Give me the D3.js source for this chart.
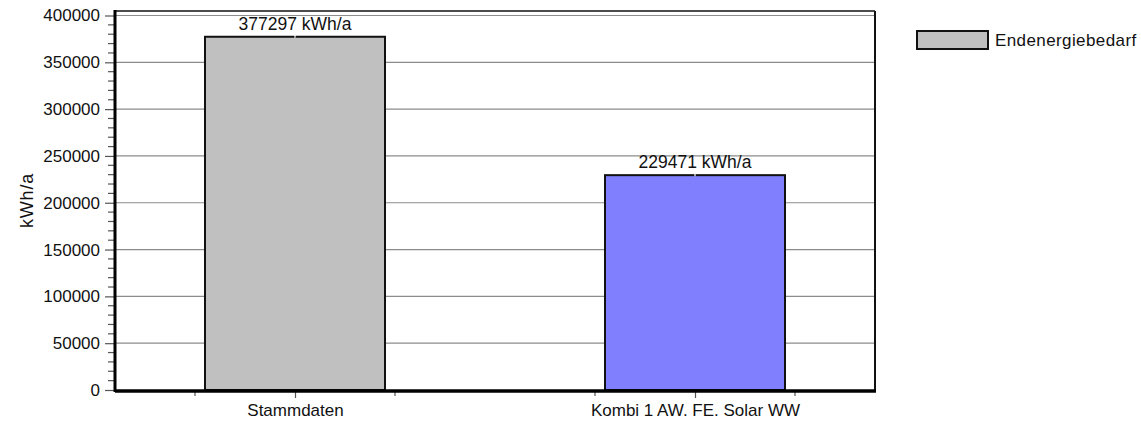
<!DOCTYPE html>
<html><head><meta charset="utf-8">
<script src="https://cdn.jsdelivr.net/npm/d3@7"></script>
<style>
html,body{margin:0;padding:0;background:#fff;}
svg{display:block;font-family:"Liberation Sans",Arial,sans-serif;}
</style></head>
<body><svg id="c" width="1141" height="421"></svg>
<script>
const categories = ["Stammdaten", "Kombi 1 AW. FE. Solar WW"];
const values = [377297, 229471];
const valueLabels = ["377297 kWh/a", "229471 kWh/a"];
const barColors = ["#c0c0c0", "#8080ff"];
const seriesName = "Endenergiebedarf";
const yTicks = [0, 50000, 100000, 150000, 200000, 250000, 300000, 350000, 400000];
const yUnit = "kWh/a";

const svg = d3.select("#c");
const L = 115, R = 875, T = 11, B = 390;
const x = d3.scaleLinear().domain([0.55, 2.45]).range([L, R]);
const y = d3.scaleLinear().domain([0, 400000]).range([B, 15.5]);
const fs = 17;

// gridlines
svg.append("g").selectAll("line").data(yTicks.filter(d => d > 0)).join("line")
  .attr("x1", L).attr("x2", R).attr("y1", d => y(d)).attr("y2", d => y(d))
  .attr("stroke", "#8c8c8c").attr("stroke-width", 1.2);

// bars
const bw = 0.45;
svg.append("g").selectAll("rect").data(values).join("rect")
  .attr("x", (d, i) => x(i + 1 - bw / 2))
  .attr("width", (d, i) => x(i + 1 + bw / 2) - x(i + 1 - bw / 2))
  .attr("y", d => y(d)).attr("height", d => B - y(d))
  .attr("fill", (d, i) => barColors[i]).attr("stroke", "#111").attr("stroke-width", 2);

// small white marks at bar tops
svg.append("g").selectAll("line").data(values).join("line")
  .attr("x1", (d, i) => x(i + 1)).attr("x2", (d, i) => x(i + 1))
  .attr("y1", d => y(d) - 3).attr("y2", d => y(d) + 1)
  .attr("stroke", "#fff").attr("stroke-width", 1.2);

// value labels
svg.append("g").selectAll("text").data(values).join("text")
  .attr("x", (d, i) => x(i + 1)).attr("y", d => y(d) - 7)
  .attr("text-anchor", "middle").attr("font-size", 17.5)
  .attr("fill", "#111").text((d, i) => valueLabels[i]);

// frame
svg.append("line").attr("x1", L).attr("x2", R).attr("y1", T).attr("y2", T).attr("stroke", "#111").attr("stroke-width", 1.6);
svg.append("line").attr("x1", R).attr("x2", R).attr("y1", T).attr("y2", B).attr("stroke", "#111").attr("stroke-width", 2);

// y axis
const yAxis = d3.axisLeft(y).tickValues(yTicks).tickSize(10).tickPadding(5).tickFormat(d3.format("d"));
const gy = svg.append("g").attr("transform", `translate(${L},0)`).call(yAxis);
gy.select(".domain").remove();
gy.selectAll(".tick line").attr("stroke", "#555").attr("stroke-width", 1.2);
gy.selectAll(".tick text").attr("font-size", fs).attr("fill", "#111")
  .attr("font-family", "Liberation Sans, Arial, sans-serif");
const minorY = d3.range(0, 400001, 10000).filter(v => v % 50000 !== 0);
svg.append("g").selectAll("line").data(minorY).join("line")
  .attr("x1", L - 7).attr("x2", L).attr("y1", d => y(d)).attr("y2", d => y(d))
  .attr("stroke", "#555").attr("stroke-width", 1.2);

// x axis ticks
const xMajor = categories.map((c, i) => i + 1);
const xMinor = [0.75, 1.25, 1.75, 2.25];
const gx = svg.append("g").attr("transform", `translate(0,${B})`)
  .call(d3.axisBottom(x).tickValues(xMajor).tickSize(8).tickPadding(6).tickFormat((d, i) => categories[i]));
gx.select(".domain").remove();
gx.selectAll(".tick line").attr("stroke", "#555").attr("stroke-width", 1.2);
gx.selectAll(".tick text").attr("font-size", fs).attr("fill", "#111")
  .attr("font-family", "Liberation Sans, Arial, sans-serif");
svg.append("g").selectAll("line").data(xMinor).join("line")
  .attr("x1", d => x(d)).attr("x2", d => x(d)).attr("y1", B).attr("y2", B + 6)
  .attr("stroke", "#555").attr("stroke-width", 1.2);

// thick axes
svg.append("line").attr("x1", L).attr("x2", L).attr("y1", T - 1).attr("y2", B + 2).attr("stroke", "#000").attr("stroke-width", 3);
svg.append("line").attr("x1", L).attr("x2", R + 1).attr("y1", B + 1).attr("y2", B + 1).attr("stroke", "#000").attr("stroke-width", 3.5);

// y unit label
svg.append("text").attr("transform", `translate(33,${(T + B) / 2}) rotate(-90)`)
  .attr("text-anchor", "middle").attr("font-size", 18).attr("letter-spacing", 0.8).attr("fill", "#111").text(yUnit);

// legend
const lg = svg.append("g").attr("transform", "translate(917,31)");
lg.append("rect").attr("x", 0).attr("y", 0).attr("width", 71).attr("height", 18)
  .attr("fill", barColors[0]).attr("stroke", "#111").attr("stroke-width", 2);
lg.append("text").attr("x", 78).attr("y", 15).attr("font-size", fs).attr("letter-spacing", 0.4)
  .attr("fill", "#111").text(seriesName);
</script></body></html>
